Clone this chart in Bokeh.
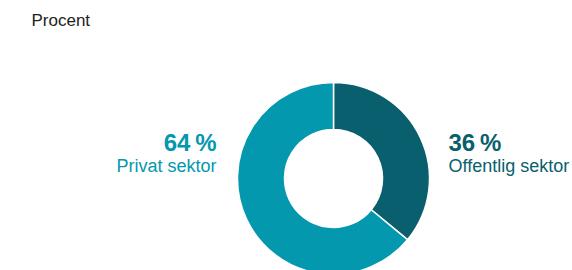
from math import pi
from bokeh.plotting import figure
from bokeh.models import Range1d, ColumnDataSource
from bokeh.core.properties import value
from bokeh.embed import file_html
from bokeh.resources import INLINE

categories = ["Offentlig sektor", "Privat sektor"]
values = [36, 64]
colors = ["#095F6D", "#0398AE"]
unit_label = "Procent"

W, H = 572, 270
p = figure(width=W, height=H, output_backend="svg", toolbar_location=None,
           x_range=Range1d(0, W), y_range=Range1d(0, H), min_border=0)
p.axis.visible = False
p.grid.visible = False
p.outline_line_color = None
p.background_fill_color = "white"
p.border_fill_color = "white"

def px(x):
    return x

def py(y):
    return H - y

# angles from data: start at top, clockwise
total = sum(values)
starts, ends = [], []
acc = 0.0
for v in values:
    a0 = pi / 2 - 2 * pi * acc / total
    acc += v
    a1 = pi / 2 - 2 * pi * acc / total
    starts.append(a1)
    ends.append(a0)

src = ColumnDataSource(dict(cat=categories, val=values, color=colors,
                            start=starts, end=ends))
p.annular_wedge(x=px(333), y=py(178), inner_radius=49, outer_radius=96,
                start_angle="start", end_angle="end", color="color",
                line_color="white", line_width=1.5, source=src,
                inner_radius_units="screen", outer_radius_units="screen")

font = value("Liberation Sans")
pct = "\u202f%"
p.text(x=[px(448)], y=[py(142)], text=[f"{values[0]}{pct}"], text_font=font,
       text_font_size="24px", text_font_style="bold", text_color=colors[0],
       text_align="left", text_baseline="alphabetic")
p.text(x=[px(448)], y=[py(165)], text=[categories[0]], text_font=font,
       text_font_size="18px", text_color=colors[0],
       text_align="left", text_baseline="alphabetic")
p.text(x=[px(216)], y=[py(142)], text=[f"{values[1]}{pct}"], text_font=font,
       text_font_size="24px", text_font_style="bold", text_color=colors[1],
       text_align="right", text_baseline="alphabetic")
p.text(x=[px(216)], y=[py(165)], text=[categories[1]], text_font=font,
       text_font_size="18px", text_color=colors[1],
       text_align="right", text_baseline="alphabetic")
p.text(x=[px(31)], y=[py(20)], text=[unit_label], text_font=font,
       text_font_size="17px", text_color="#222222",
       text_align="left", text_baseline="alphabetic")

open("out.html", "w").write(file_html(p, INLINE))
